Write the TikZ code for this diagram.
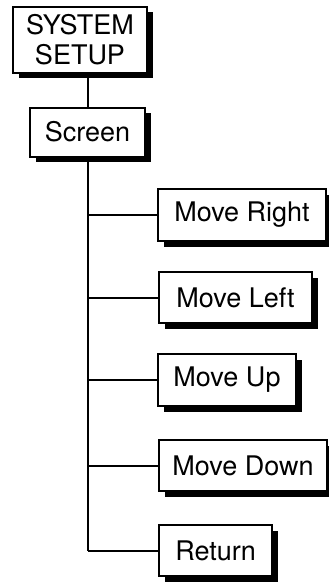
\documentclass[tikz,border=0pt]{standalone}
\usepackage{fontspec}
\setmainfont{TeX Gyre Heros}
\usetikzlibrary{shadows}
\begin{document}
\begin{tikzpicture}[x=1pt,y=-1pt,
  menubox/.style={draw=black,line width=2pt,fill=white,inner sep=0pt,
    font=\fontsize{27}{30}\selectfont,align=center,
    drop shadow={shadow xshift=5.5pt,shadow yshift=-5.5pt,fill=black,opacity=1}},
  link/.style={draw=black,line width=2pt}]
\useasboundingbox (0,0) rectangle (329,582);
\node[menubox,minimum width=134pt,minimum height=66pt] (sys) at (80,39.5) {SYSTEM\\SETUP};
\node[menubox,minimum width=115pt,minimum height=49pt] (screen) at (87.5,132) {Screen};
\node[menubox,minimum width=168pt,minimum height=52pt] (mr) at (242,215) {Move Right};
\node[menubox,minimum width=153pt,minimum height=51pt] (ml) at (235.5,297.5) {Move Left};
\node[menubox,minimum width=138pt,minimum height=52pt] (mu) at (227,380) {Move Up};
\node[menubox,minimum width=168pt,minimum height=51pt] (md) at (243,465.5) {Move Down};
\node[menubox,minimum width=113pt,minimum height=51pt] (ret) at (215.5,550.5) {Return};
\draw[link] (screen.north |- sys.south) -- (screen.north);
\draw[link] (screen.south) -- (screen.south |- ret.west);
\foreach \b in {mr,ml,mu,md,ret}
  \draw[link] (screen.south |- \b.west) -- (\b.west);
\end{tikzpicture}
\end{document}
